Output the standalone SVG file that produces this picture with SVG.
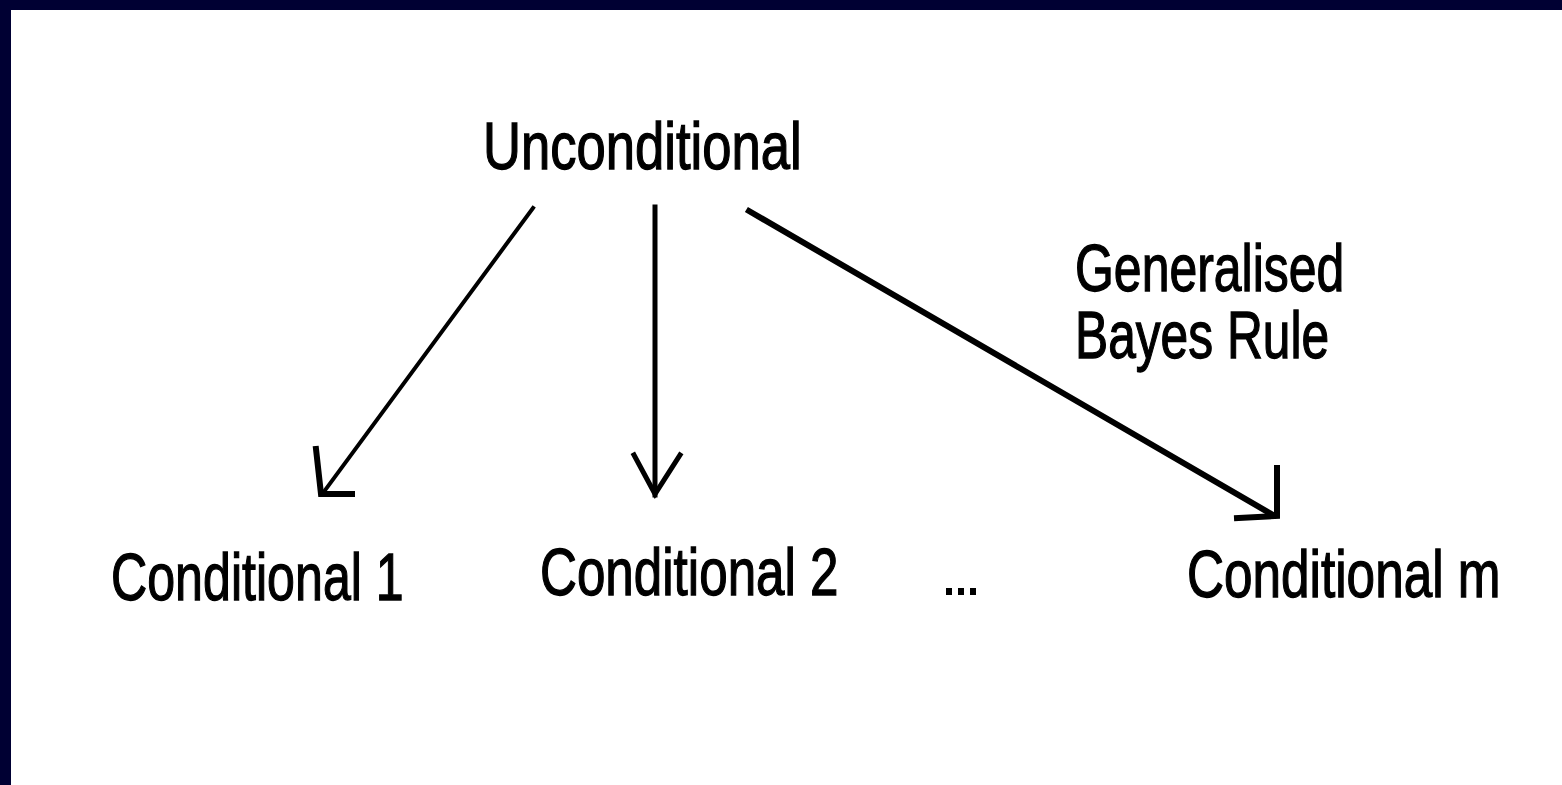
<svg xmlns="http://www.w3.org/2000/svg" width="1562" height="785" viewBox="0 0 1562 785">
  <style>
    .lbl { font-family: "Liberation Sans", Arial, sans-serif; font-size: 66px; fill: #000; stroke: #000; stroke-width: 1.3px; }
    .edge { stroke: #000; fill: none; stroke-linecap: square; }
  </style>
  <!-- slide frame -->
  <rect x="0" y="0" width="1562" height="785" fill="#000033"/>
  <rect x="11" y="10" width="1551" height="775" fill="#ffffff"/>

  <!-- labels are narrowed horizontally with a scale transform -->
  <g id="unconditional">
    <text class="lbl" transform="translate(483,169) scale(0.797,1)">Unconditional</text>
  </g>
  <g id="conditional-1">
    <text class="lbl" transform="translate(111,600) scale(0.760,1)">Conditional 1</text>
  </g>
  <g id="conditional-2">
    <text class="lbl" transform="translate(540,595) scale(0.775,1)">Conditional 2</text>
  </g>
  <g id="ellipsis">
    <rect x="946" y="588" width="6" height="7" fill="#000"/>
    <rect x="958" y="588" width="6" height="7" fill="#000"/>
    <rect x="970" y="588" width="6" height="7" fill="#000"/>
  </g>
  <g id="conditional-m">
    <text class="lbl" transform="translate(1187,597) scale(0.777,1)">Conditional m</text>
  </g>
  <g id="rule-label">
    <text class="lbl" transform="translate(1075,291) scale(0.757,1)">Generalised</text>
    <text class="lbl" transform="translate(1075,358) scale(0.753,1)">Bayes Rule</text>
  </g>

  <g id="connectors">
    <!-- to Conditional 1 -->
    <line class="edge" x1="533" y1="208" x2="323" y2="493" stroke-width="4"/>
    <polyline class="edge" points="316,449 321,494 352,494" stroke-width="6"/>
    <!-- to Conditional 2 -->
    <line class="edge" x1="655" y1="207" x2="655" y2="495" stroke-width="5"/>
    <polyline class="edge" points="634,455 655,494 680,455" stroke-width="5"/>
    <!-- to Conditional m -->
    <line class="edge" x1="749" y1="211" x2="1273" y2="515" stroke-width="6"/>
    <polyline class="edge" points="1277,468 1277,516 1237,518" stroke-width="6"/>
  </g>
</svg>
